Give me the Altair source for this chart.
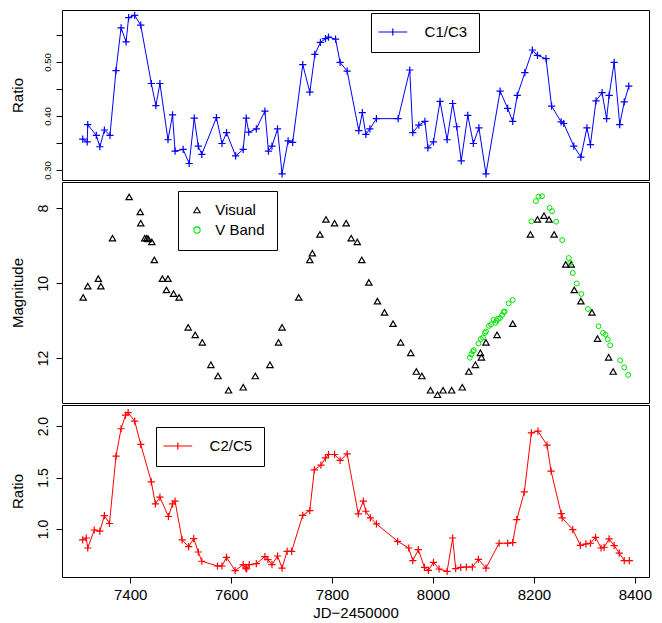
import altair as alt
import pandas as pd

# ---------------- data ----------------
c13_day = [7306, 7315, 7316, 7333, 7340, 7349, 7360, 7372, 7382, 7392, 7397, 7409, 7421,
           7442, 7451, 7459, 7475, 7484, 7489, 7505, 7517, 7527, 7535, 7542, 7571, 7582,
           7591, 7609, 7624, 7630, 7635, 7650, 7667, 7674, 7681, 7692, 7701, 7713, 7722,
           7742, 7756, 7766, 7777, 7787, 7793, 7807, 7816, 7830, 7853, 7860, 7867, 7875,
           7888, 7931, 7954, 7960, 7972, 7984, 7990, 8001, 8014, 8028, 8039, 8047, 8056,
           8069, 8080, 8091, 8105, 8133, 8148, 8158, 8167, 8182, 8197, 8207, 8224, 8235,
           8254, 8259, 8279, 8293, 8305, 8312, 8323, 8335, 8344, 8349, 8359, 8370, 8379, 8388]
c13_ratio = [0.357, 0.352, 0.384, 0.364, 0.343, 0.374, 0.364, 0.484, 0.563, 0.537, 0.582, 0.586, 0.568,
             0.460, 0.419, 0.460, 0.356, 0.402, 0.335, 0.338, 0.312, 0.396, 0.344, 0.329, 0.397, 0.349,
             0.369, 0.326, 0.338, 0.396, 0.370, 0.376, 0.409, 0.335, 0.344, 0.376, 0.293, 0.354, 0.351,
             0.495, 0.444, 0.514, 0.536, 0.543, 0.546, 0.542, 0.499, 0.483, 0.373, 0.406, 0.366, 0.376,
             0.395, 0.395, 0.485, 0.369, 0.383, 0.390, 0.341, 0.352, 0.427, 0.356, 0.423, 0.380, 0.317,
             0.401, 0.349, 0.378, 0.293, 0.446, 0.414, 0.390, 0.438, 0.480, 0.522, 0.512, 0.506, 0.418,
             0.389, 0.386, 0.344, 0.324, 0.378, 0.347, 0.428, 0.443, 0.395, 0.438, 0.499, 0.384, 0.426, 0.455]

vis_day = [7307, 7316, 7337, 7342, 7365, 7398, 7420, 7421, 7429, 7433, 7436, 7443, 7448,
           7464, 7475, 7472, 7486, 7497, 7515, 7529, 7543, 7560, 7574, 7595, 7624, 7648,
           7677, 7694, 7701, 7734, 7756, 7761, 7776, 7788, 7805, 7828, 7838, 7850, 7859,
           7873, 7890, 7904, 7921, 7936, 7956, 7967, 7978, 7995, 8009, 8020, 8037, 8058,
           8071, 8084, 8094, 8096, 8105, 8127, 8158, 8193, 8207, 8220, 8230, 8240, 8263,
           8274, 8280, 8293, 8315, 8326, 8348, 8357]
vis_mag = [10.38, 10.08, 9.88, 10.08, 8.80, 7.70, 8.10, 8.40, 8.80, 8.80, 8.82, 8.90, 9.38,
           9.88, 9.88, 10.18, 10.28, 10.38, 11.18, 11.38, 11.58, 12.18, 12.48, 12.86, 12.78, 12.48,
           12.18, 11.58, 11.18, 10.38, 9.38, 9.20, 8.70, 8.30, 8.40, 8.40, 8.80, 8.90, 9.38,
           9.98, 10.48, 10.78, 11.08, 11.58, 11.86, 12.36, 12.48, 12.86, 12.98, 12.86, 12.86, 12.78,
           12.36, 12.18, 11.86, 11.98, 11.58, 11.38, 11.08, 8.70, 8.30, 8.20, 8.30, 8.70, 9.50,
           9.50, 10.18, 10.48, 10.78, 11.48, 11.98, 12.36]

vb_day = [8073, 8076, 8079, 8081, 8090, 8095, 8099, 8103, 8105, 8111, 8115, 8120, 8124,
          8126, 8129, 8133, 8137, 8140, 8142, 8150, 8158,
          8195, 8204, 8209, 8216, 8231, 8236, 8244, 8256, 8269, 8272, 8277, 8285, 8294,
          8307, 8328, 8337, 8342, 8346, 8351, 8371, 8379, 8387]
vb_mag = [11.99, 11.90, 11.82, 11.79, 11.61, 11.49, 11.45, 11.33, 11.29, 11.14, 11.10, 10.98, 11.06,
          11.00, 10.95, 10.93, 10.85, 10.77, 10.76, 10.54, 10.45,
          8.35, 7.81, 7.69, 7.68, 7.99, 8.08, 8.36, 8.85, 9.33, 9.46, 9.73, 10.01, 10.29,
          10.69, 11.15, 11.33, 11.37, 11.50, 11.66, 12.06, 12.25, 12.45]

c25_day = [7306, 7313, 7316, 7329, 7340, 7349, 7359, 7372, 7382, 7391, 7396, 7409, 7421,
           7442, 7450, 7459, 7476, 7484, 7489, 7503, 7516, 7526, 7535, 7542, 7573, 7582,
           7591, 7608, 7624, 7629, 7631, 7636, 7650, 7667, 7673, 7681, 7692, 7701, 7711,
           7720, 7742, 7756, 7765, 7778, 7787, 7793, 7805, 7816, 7830, 7852, 7862, 7867,
           7876, 7888, 7930, 7952, 7960, 7971, 7983, 7991, 8001, 8012, 8028, 8039, 8045,
           8055, 8066, 8078, 8090, 8105, 8131, 8148, 8158, 8166, 8181, 8195, 8208, 8226,
           8234, 8254, 8256, 8277, 8292, 8303, 8312, 8322, 8333, 8339, 8349, 8359, 8369,
           8379, 8389]
c25_ratio = [0.893, 0.912, 0.815, 0.990, 0.978, 1.130, 1.053, 1.708, 1.974, 2.107, 2.130, 2.049, 1.822,
             1.458, 1.243, 1.309, 1.121, 1.243, 1.270, 0.893, 0.829, 0.907, 0.776, 0.686, 0.640, 0.640,
             0.724, 0.595, 0.653, 0.620, 0.611, 0.653, 0.663, 0.731, 0.702, 0.653, 0.737, 0.620, 0.783,
             0.783, 1.133, 1.179, 1.575, 1.620, 1.691, 1.724, 1.724, 1.666, 1.730, 1.146, 1.270, 1.172,
             1.107, 1.049, 0.880, 0.815, 0.692, 0.799, 0.627, 0.598, 0.676, 0.611, 0.588, 0.912, 0.614,
             0.627, 0.630, 0.630, 0.705, 0.620, 0.861, 0.861, 0.867, 1.091, 1.360, 1.935, 1.951, 1.815,
             1.562, 1.150, 1.107, 0.994, 0.841, 0.854, 0.861, 0.919, 0.815, 0.822, 0.903, 0.838, 0.766,
             0.692, 0.692]

x_ticks = [7400, 7600, 7800, 8000, 8200, 8400]
ratio1_ticks = [0.30, 0.35, 0.40, 0.45, 0.50, 0.55]
mag_ticks = [8, 10, 12]
ratio2_ticks = [1.0, 1.5, 2.0]

# ---------------- styling ----------------
FONT = "Liberation Sans"
GREEN = "#00e400"
W = 587
H1, H2, H3 = 170, 221, 172
XDOM = [7265, 8428]
PLUS = "M-1,0L1,0M0,-1L0,1"
LEG_PLUS = "M-4,0L4,0M0,-1L0,1"

xscale = alt.Scale(domain=XDOM, nice=False, zero=False)


def yaxis(title, values, labelsize, labelpad, height, label_expr=None):
    kw = dict(title=title, values=values, grid=False, domain=False, tickSize=6,
              tickColor="black", tickWidth=1, labelFont=FONT, labelFontSize=labelsize,
              labelColor="black", labelAngle=270, labelAlign="center",
              labelBaseline="alphabetic", labelPadding=labelpad, labelOverlap=False,
              labelFlush=False, titleFont=FONT, titleFontSize=15, titleFontWeight="normal",
              titleColor="black", titleAngle=270, titleAlign="center",
              titleBaseline="alphabetic", titleX=-40, titleY=height / 2)
    if label_expr:
        kw["labelExpr"] = label_expr
    return alt.Axis(**kw)


def line_legend(x, y):
    return alt.Legend(title=None, orient="none", legendX=x, legendY=y, padding=11.5,
                      strokeColor="black", fillColor="white", cornerRadius=0,
                      symbolType=LEG_PLUS, symbolSize=52, symbolStrokeWidth=1.2,
                      symbolFillColor="transparent", symbolOffset=2.8, labelOffset=24.3,
                      labelFont=FONT, labelFontSize=15, labelColor="black")


x_none = alt.X("day:Q", scale=xscale, axis=None)

# ---------------- panel 1 : C1/C3 ----------------
d1 = pd.DataFrame({"day": c13_day, "ratio": c13_ratio, "series": "C1/C3"})
y1 = alt.Y("ratio:Q", scale=alt.Scale(domain=[0.2815, 0.596], nice=False, zero=False),
           axis=yaxis("Ratio", ratio1_ticks, 9.5, 6, H1,
                      "round(datum.value*100) % 10 == 0 ? format(datum.value, '.2f') : ''"))
line1 = alt.Chart(d1).mark_line(color="blue", strokeWidth=1).encode(x=x_none, y=y1)
pts1 = alt.Chart(d1).mark_point(shape=PLUS, size=52, filled=False, strokeWidth=1.2, opacity=1).encode(
    x=x_none, y=y1,
    color=alt.Color("series:N", scale=alt.Scale(domain=["C1/C3"], range=["blue"]),
                    legend=line_legend(309, 3)))
p1 = alt.layer(line1, pts1).properties(width=W, height=H1)

# ---------------- panel 2 : magnitudes ----------------
d2a = pd.DataFrame({"day": vis_day, "mag": vis_mag, "type": "Visual"})
d2b = pd.DataFrame({"day": vb_day, "mag": vb_mag, "type": "V Band"})
y2 = alt.Y("mag:Q", scale=alt.Scale(domain=[7.3, 13.2], reverse=True, nice=False, zero=False),
           axis=yaxis("Magnitude", mag_ticks, 14, 9, H2))
leg2 = alt.Legend(title=None, orient="none", legendX=116, legendY=9, padding=11.5,
                  strokeColor="black", fillColor="white", cornerRadius=0, rowPadding=4,
                  symbolSize=40, symbolStrokeWidth=1.1, symbolFillColor="transparent",
                  symbolOffset=0, labelOffset=10.8, labelFont=FONT, labelFontSize=15,
                  labelColor="black")
col2 = alt.Color("type:N", scale=alt.Scale(domain=["Visual", "V Band"], range=["black", GREEN]),
                 legend=leg2)
shp2 = alt.Shape("type:N", scale=alt.Scale(domain=["Visual", "V Band"],
                                           range=["triangle-up", "circle"]), legend=leg2)
tri = alt.Chart(d2a).mark_point(size=40, filled=False, strokeWidth=1.2, opacity=1).encode(
    x=x_none, y=y2, color=col2, shape=shp2)
circ = alt.Chart(d2b).mark_point(size=24, filled=False, strokeWidth=1, opacity=1).encode(
    x=x_none, y=y2, color=col2, shape=shp2)
p2 = alt.layer(tri, circ).properties(width=W, height=H2)

# ---------------- panel 3 : C2/C5 ----------------
d3 = pd.DataFrame({"day": c25_day, "ratio": c25_ratio, "series": "C2/C5"})
x3 = alt.X("day:Q", scale=xscale,
           axis=alt.Axis(title="JD\u22122450000", values=x_ticks, format="d", grid=False,
                         domain=False, tickSize=6, tickColor="black", labelFont=FONT,
                         labelFontSize=15, labelColor="black", labelPadding=4,
                         labelFlush=False, labelOverlap=False, titleFont=FONT,
                         titleFontSize=15, titleFontWeight="normal", titleColor="black",
                         titleBaseline="alphabetic", titleY=40))
y3 = alt.Y("ratio:Q", scale=alt.Scale(domain=[0.533, 2.205], nice=False, zero=False),
           axis=yaxis("Ratio", ratio2_ticks, 14, 9, H3))
line3 = alt.Chart(d3).mark_line(color="red", strokeWidth=1).encode(x=x3, y=y3)
pts3 = alt.Chart(d3).mark_point(shape=PLUS, size=52, filled=False, strokeWidth=1.2, opacity=1).encode(
    x=x3, y=y3,
    color=alt.Color("series:N", scale=alt.Scale(domain=["C2/C5"], range=["red"]),
                    legend=line_legend(94, 22)))
p3 = alt.layer(line3, pts3).properties(width=W, height=H3)

chart = alt.vconcat(p1, p2, p3, spacing=0, background="white",
                    padding={"left": 1, "top": 0, "right": 0, "bottom": 0}) \
    .resolve_scale(color="independent", shape="independent") \
    .configure_view(stroke="black", strokeWidth=1)

chart.save("out.html", embed_options={"renderer": "svg", "actions": False})
